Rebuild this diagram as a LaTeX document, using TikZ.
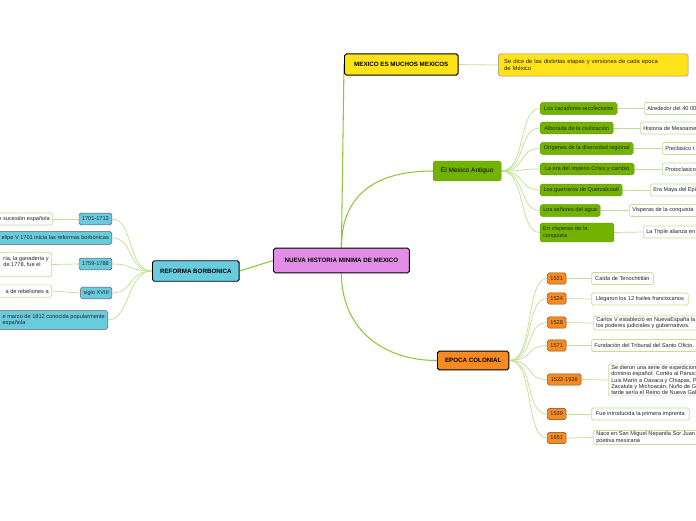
\documentclass[tikz,border=0pt]{standalone}
\usepackage{fontspec}
\setmainfont{Liberation Sans}
\usetikzlibrary{backgrounds}
\definecolor{rootpink}{RGB}{226,142,230}
\definecolor{reformblue}{RGB}{104,204,222}
\definecolor{mexyellow}{RGB}{255,226,24}
\definecolor{antgreen}{RGB}{114,178,0}
\definecolor{colorange}{RGB}{247,138,32}
\definecolor{linkgreen}{RGB}{142,198,60}
\definecolor{leafgreen}{RGB}{192,224,146}

\begin{document}
\begin{tikzpicture}[x=0.03cm, y=-0.03cm,
    every node/.style={font=\fontsize{4.8}{5.4}\selectfont, rounded corners=1.5pt,
        inner xsep=2.5pt, inner ysep=1pt, text=black!85},
    topic/.style={draw=black, line width=0.8pt, anchor=west,
        font=\fontsize{5.3}{6}\selectfont\bfseries, text=black},
    greenitem/.style={fill=antgreen, draw=antgreen!85!black, line width=0.3pt,
        anchor=west, minimum height=10pt, align=left},
    orangeitem/.style={fill=colorange, draw=brown!60!black, line width=0.4pt,
        anchor=west, minimum height=9.6pt, minimum width=16.2pt},
    blueitem/.style={fill=reformblue, draw=black!65, line width=0.4pt,
        anchor=east, minimum height=10.2pt, align=left},
    leaf/.style={fill=white, draw=leafgreen, line width=0.6pt,
        minimum height=10.2pt, align=left},
    trunk/.style={draw=linkgreen, line width=0.9pt},
    twig/.style={draw=leafgreen, line width=0.6pt}]

    \useasboundingbox (0,0) rectangle (696,520);
    \clip (0,0) rectangle (696,520);

    % Main topics
    \node[topic, fill=rootpink, minimum width=116pt, minimum height=21pt] (nh) at (273,260.5) {NUEVA HISTORIA MINIMA DE MEXICO};
    \node[topic, fill=mexyellow, minimum width=97pt, minimum height=18pt] (mexicos) at (344,64.5) {MEXICO ES MUCHOS MEXICOS};
    \node[fill=mexyellow, draw=black!45, line width=0.5pt, anchor=west, align=left, inner xsep=5pt,
        text width=152pt, minimum height=19pt, font=\fontsize{5}{5.8}\selectfont] (sedice) at (498,65)
        {Se dice de las distintas etapas y versiones de cada epoca\\de México};
    \node[topic, fill=antgreen, draw=antgreen!85!black, line width=0.3pt, font=\fontsize{5.6}{6.5}\selectfont,
        minimum width=58pt, minimum height=17pt] (antiguo) at (433,171) {El Mexico Antiguo};
    \node[topic, fill=colorange, minimum width=61pt, minimum height=16pt] (colonial) at (437,360.5) {EPOCA COLONIAL};
    \node[topic, fill=reformblue, minimum width=74pt, minimum height=17.5pt] (reforma) at (152,271) {REFORMA BORBONICA};

    % El Mexico Antiguo
    \node[greenitem, minimum width=65.7pt] (ga1) at (540,108.5) {Los cazadores-recolectores};
    \node[greenitem, minimum width=62.3pt] (ga2) at (540,128) {Alborada de la civilización};
    \node[greenitem, minimum width=79.4pt] (ga3) at (540,148.5) {Orígenes de la diversidad regional};
    \node[greenitem, minimum width=80.2pt] (ga4) at (540,169) {La era del imperio Crisis y cambio};
    \node[greenitem, minimum width=70pt] (ga5) at (540,190) {Los guerreros de Quetzalcóatl};
    \node[greenitem, minimum width=51.2pt] (ga6) at (540,210.5) {Los señores del agua};
    \node[greenitem, text width=58pt, minimum height=16.2pt] (ga7) at (540,232.5) {En vísperas de la\\conquista};

    \node[leaf, anchor=west] (gl1) at (644,108.5) {Alrededor del 40 00\hspace*{15pt}};
    \node[leaf, anchor=west] (gl2) at (640,128) {Historia de Mesoame\hspace*{15pt}};
    \node[leaf, anchor=west] (gl3) at (662,148.5) {Preclasico t\hspace*{15pt}};
    \node[leaf, anchor=west] (gl4) at (662,169) {Protoclasico\hspace*{15pt}};
    \node[leaf, anchor=west] (gl5) at (650,190) {Era Maya del Epi\hspace*{15pt}};
    \node[leaf, anchor=west] (gl6) at (629,210.5) {Visperas de la conquista\hspace*{15pt}};
    \node[leaf, anchor=west] (gl7) at (643,232) {La Triple alianza en\hspace*{15pt}};

    % Epoca colonial
    \node[orangeitem] (oy1) at (547,278.5) {1521};
    \node[orangeitem] (oy2) at (547,298.5) {1524};
    \node[orangeitem] (oy3) at (547,322.5) {1528};
    \node[orangeitem] (oy4) at (547,345.5) {1571};
    \node[orangeitem, minimum width=29pt] (oy5) at (547,379.5) {1522-1536};
    \node[orangeitem] (oy6) at (547,414) {1539};
    \node[orangeitem] (oy7) at (547,438) {1651};

    \node[leaf, anchor=west, minimum width=53pt] (ot1) at (591,278.5) {Caída de Tenochtitlán};
    \node[leaf, anchor=west, minimum width=82.8pt] (ot2) at (591,299) {Llegaron los 12 frailes franciscanos};
    \node[leaf, anchor=west] (ot3) at (593,323) {Carlos V estableció en NuevaEspaña la\hspace*{15pt}\\los poderes judiciales y gubernativos.};
    \node[leaf, anchor=west] (ot4) at (591,345.5) {Fundación del Tribunal del Santo Oficio.\hspace*{15pt}};
    \node[leaf, anchor=west] (ot5) at (608,380) {Se dieron una serie de expedicion\hspace*{15pt}\\dominio español: Cortés al Pánuc\\Luis Marín a Oaxaca y Chiapas, Pe\\Zacatula y Michoacán, Nuño de G\\tarde sería el Reino de Nueva Gal};
    \node[leaf, anchor=west, minimum width=83.6pt] (ot6) at (591,414) {Fue introducida la primera imprenta};
    \node[leaf, anchor=west] (ot7) at (593,437.5) {Nace en San Miguel Nepantla Sor Juan\hspace*{15pt}\\poetisa mexicana};

    % Reforma borbonica
    \node[blueitem, minimum width=26.5pt] (by1) at (112,219) {1701-1713};
    \node[blueitem, minimum height=11pt] (by2) at (112,238) {\hspace*{12pt}elipe V 1701 inicia las reformas borbónicas};
    \node[blueitem, minimum width=26.5pt] (by3) at (112,264) {1759-1788};
    \node[blueitem, minimum width=26.5pt] (by4) at (112,293) {siglo XVIII};
    \node[blueitem, minimum height=16pt] (by5) at (108,320) {\hspace*{12pt}e marzo de 1812 conocida popularmente\\\hspace*{12pt}española};

    \node[leaf, anchor=east] (bl1) at (53,219) {\hspace*{12pt}e sucesión española};
    \node[leaf, anchor=east, minimum height=21pt] (bl3) at (52,264.5) {\hspace*{12pt}ría, la ganadería y\\\hspace*{12pt}de 1778, fue el\\\hspace*{12pt}};
    \node[leaf, anchor=east, minimum height=10.5pt] (bl4) at (52,291) {\hspace*{12pt}a de rebeliones a};

    % Branches, behind the boxes
    \begin{scope}[on background layer]
    \fill[white] (0,0) rectangle (696,520);
    \draw[trunk] (nh.north) -- (mexicos.west);
    \draw[trunk] (nh.north) .. controls +(0,-55) and +(-55,0) .. (antiguo.west);
    \draw[trunk] (nh.south) .. controls +(0,55) and +(-55,0) .. (colonial.west);
    \draw[trunk] (reforma.east) -- (nh.west);
    \draw[twig] (mexicos.east) -- (sedice.west);

    \foreach \i in {1,...,7} {
        \draw[twig] (antiguo.east) .. controls +(25,0) and +(-22,0) .. (ga\i.west);
        \draw[twig] (ga\i.east) -- (gl\i.west);
        \draw[twig] (colonial.east) .. controls +(25,0) and +(-22,0) .. (oy\i.west);
        \draw[twig] (oy\i.east) -- (ot\i.west);
    }
    \foreach \i in {1,...,5}
        \draw[twig] (reforma.west) .. controls +(-25,0) and +(22,0) .. (by\i.east);
    \foreach \i in {1,3,4}
        \draw[twig] (by\i.west) -- (bl\i.east);
    \end{scope}
\end{tikzpicture}
\end{document}
